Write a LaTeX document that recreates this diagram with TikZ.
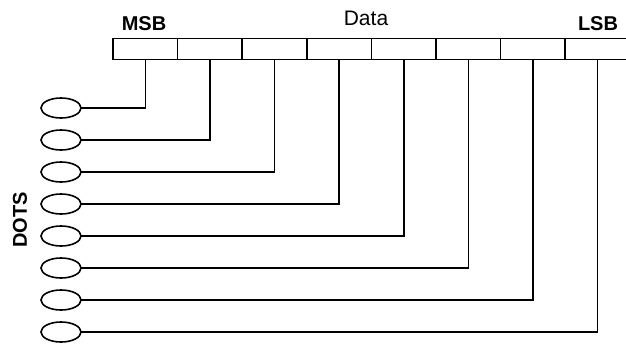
\documentclass[tikz,border=0pt]{standalone}
\usepackage{fontspec}
\setmainfont{Liberation Sans}
\usetikzlibrary{shapes.geometric}
\begin{document}
\begin{tikzpicture}[x=1pt,y=-1pt,
  cell/.style={draw, line width=1.6pt, minimum width=64.6pt, minimum height=21pt, inner sep=0pt, outer sep=0pt},
  dot/.style={draw, ellipse, line width=1.6pt, minimum width=40pt, minimum height=20pt, inner sep=0pt, outer sep=0pt},
  wire/.style={line width=1.6pt},
  lbl/.style={font=\fontsize{20}{22}\selectfont\bfseries, inner sep=0pt}]
\useasboundingbox (0,0) rectangle (626,343);
\begin{scope}
\clip (0,0) rectangle (626,343);
\foreach \i in {1,...,8} {
  \node[cell] (c\i) at ({113+64.6*(\i-0.5)},49) {};
}
\foreach \i in {1,...,8} {
  \node[dot] (e\i) at (61,{108+32*(\i-1)}) {};
  \draw[wire] (e\i.east) -| (c\i.south);
}
\end{scope}
\node[lbl] (msb) at (144,24) {MSB};
\node[lbl, font=\fontsize{21}{23}\selectfont] (data) at (366,18) {Data};
\node[lbl] (lsb) at (598,24) {LSB};
\node[lbl, rotate=90] (dots) at (20,220) {DOTS};
\end{tikzpicture}
\end{document}
